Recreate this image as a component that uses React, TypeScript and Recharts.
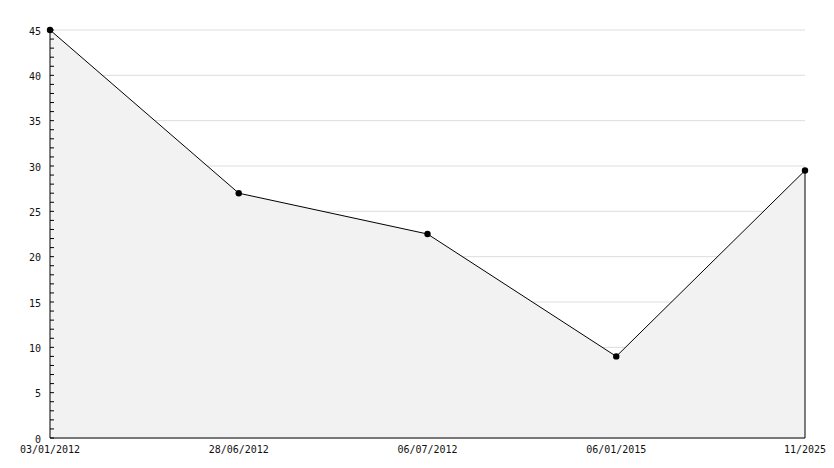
import React from 'react';
import { AreaChart, Area, XAxis, YAxis, CartesianGrid, ReferenceLine } from 'recharts';

const dates = ['03/01/2012', '28/06/2012', '06/07/2012', '06/01/2015', '11/2025'];
const values = [45, 27, 22.5, 9, 29.5];
const yTicks = [0, 5, 10, 15, 20, 25, 30, 35, 40, 45];
const minorTicks = Array.from({ length: 46 }, (_, i) => i);

const data = dates.map((d, i) => ({ date: d, value: values[i] }));

const AXIS_X = 50;
const font = { fontFamily: '"DejaVu Sans Mono", monospace', fontSize: 10, fill: '#111' };

function YTick(props: any) {
  const { y, payload } = props;
  const v = payload.value;
  return (
    <g>
      <line x1={AXIS_X} x2={AXIS_X + 4} y1={y} y2={y} stroke="#000" strokeWidth={1} />
      {v % 5 === 0 && (
        <text x={AXIS_X - 9} y={y} dy="0.45em" textAnchor="end" {...font}>
          {v}
        </text>
      )}
    </g>
  );
}

function Dot(props: any) {
  const { cx, cy } = props;
  if (cx == null || cy == null) return null;
  return <circle cx={cx} cy={cy} r={3.2} fill="#000" stroke="none" />;
}

export default function App() {
  return (
    <div style={{ position: 'absolute', left: 0, top: 0, background: '#fff' }}>
      <AreaChart
        width={834}
        height={468}
        data={data}
        margin={{ top: 30, right: 29, bottom: 0, left: 0 }}
      >
        <CartesianGrid vertical={false} stroke="#dddddd" horizontalValues={yTicks} />
        <XAxis
          dataKey="date"
          height={30}
          padding={{ left: 0, right: 0 }}
          axisLine={{ stroke: '#000' }}
          tickLine={false}
          tickSize={0}
          tickMargin={8}
          tick={font}
          interval={0}
        />
        <YAxis
          width={50}
          domain={[0, 45]}
          ticks={minorTicks}
          interval={0}
          axisLine={{ stroke: '#000' }}
          tickLine={false}
          tickSize={0}
          tick={<YTick />}
        />
        <Area
          type="linear"
          dataKey="value"
          stroke="#000"
          strokeWidth={1}
          fill="#f2f2f2"
          fillOpacity={1}
          dot={<Dot />}
          activeDot={false}
          isAnimationActive={false}
        />
        <ReferenceLine
          segment={[
            { x: dates[dates.length - 1], y: values[values.length - 1] },
            { x: dates[dates.length - 1], y: 0 },
          ]}
          stroke="#000"
          strokeWidth={1}
        />
      </AreaChart>
    </div>
  );
}
